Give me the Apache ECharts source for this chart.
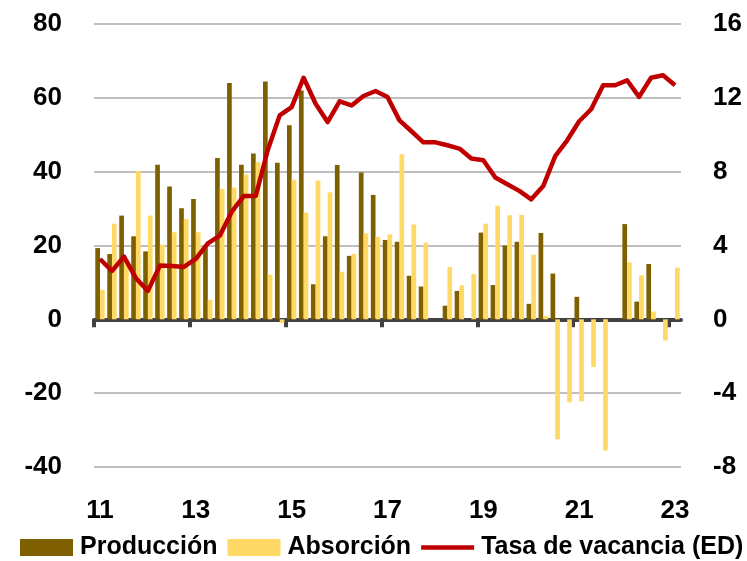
<!DOCTYPE html>
<html>
<head>
<meta charset="utf-8">
<script src="https://cdn.jsdelivr.net/npm/echarts@6/dist/echarts.min.js"></script>
<style>
html,body{margin:0;padding:0;background:#fff;}
#chart{width:747px;height:561px;}
</style>
</head>
<body>
<div id="chart"></div>
<script>
var categories = [
  '2011T1','2011T2','2011T3','2011T4','2012T1','2012T2','2012T3','2012T4',
  '2013T1','2013T2','2013T3','2013T4','2014T1','2014T2','2014T3','2014T4',
  '2015T1','2015T2','2015T3','2015T4','2016T1','2016T2','2016T3','2016T4',
  '2017T1','2017T2','2017T3','2017T4','2018T1','2018T2','2018T3','2018T4',
  '2019T1','2019T2','2019T3','2019T4','2020T1','2020T2','2020T3','2020T4',
  '2021T1','2021T2','2021T3','2021T4','2022T1','2022T2','2022T3','2022T4',
  '2023T1'
];
var tickLabels = ['11','13','15','17','19','21','23'];
var tickPositions = [0, 8, 16, 24, 32, 40, 48];
var produccion = [
  19.3, 17.7, 28.1, 22.5, 18.4, 41.9, 36.0, 30.1,
  32.6, 19.5, 43.7, 64.0, 41.9, 44.9, 64.4, 42.4,
  52.6, 62.0, 9.5, 22.5, 41.8, 17.2, 39.8, 33.7,
  21.5, 21.0, 11.8, 8.9, 0, 3.7, 7.7, 0,
  23.5, 9.3, 20.0, 21.0, 4.2, 23.4, 12.4, 0,
  6.1, 0, 0, 0, 25.8, 4.8, 15.0, 0,
  0
];
var absorcion = [
  8.0, 25.9, 16.0, 40.2, 28.1, 20.2, 23.6, 27.2,
  23.6, 5.3, 35.3, 35.7, 39.2, 42.6, 12.1, -1.0,
  37.8, 28.9, 37.6, 34.4, 12.9, 17.7, 23.3, 22.3,
  23.0, 44.7, 25.7, 20.8, 0, 14.2, 9.2, 12.3,
  25.9, 30.8, 28.2, 28.3, 17.5, 0.9, -32.5, -22.5,
  -22.2, -12.9, -35.5, 0, 15.4, 11.9, 2.1, -5.7,
  14.0
];
var vacancia = [
  3.27, 2.62, 3.40, 2.23, 1.54, 2.91, 2.89, 2.84,
  3.27, 4.12, 4.53, 5.83, 6.68, 6.68, 9.16, 11.05,
  11.50, 13.09, 11.68, 10.69, 11.81, 11.59, 12.10, 12.37,
  12.05, 10.78, 10.19, 9.59, 9.59, 9.43, 9.25, 8.71,
  8.62, 7.68, 7.32, 6.96, 6.50, 7.22, 8.84, 9.70,
  10.73, 11.38, 12.68, 12.68, 12.95, 12.05, 13.09, 13.22,
  12.68
];

var FONT = "'Liberation Sans', Arial, sans-serif";
var chart = echarts.init(document.getElementById('chart'), null, {renderer: 'canvas'});
var labelStyle = {color: '#000', fontFamily: FONT, fontWeight: 'bold', fontSize: 26};

chart.setOption({
  animation: false,
  backgroundColor: '#fff',
  grid: {left: 94, right: 66, top: 24, bottom: 94, containLabel: false},
  legend: {
    left: 20, top: 535, width: 740, padding: 0,
    itemWidth: 53, itemHeight: 17, itemGap: 10,
    textStyle: {color: '#000', fontFamily: FONT, fontWeight: 'bold', fontSize: 25, padding: [0, 0, 0, 2]},
    data: [
      {name: 'Producción', icon: 'rect'},
      {name: 'Absorción', icon: 'rect'},
      {name: 'Tasa de vacancia (ED)', icon: 'path://M0,0L53,0L53,4.5L0,4.5Z'}
    ]
  },
  xAxis: [
    {
      type: 'category', data: categories, boundaryGap: true,
      axisLine: {show: false},
      axisTick: {show: false},
      axisLabel: {show: false},
      splitLine: {show: false}
    },
    {
      type: 'category', data: categories, boundaryGap: true, position: 'bottom',
      axisLine: {show: false, onZero: false},
      axisTick: {show: false},
      axisLabel: Object.assign({
        interval: 7, margin: 31,
        formatter: function (v, i) { return tickLabels[i / 8]; }
      }, labelStyle),
      splitLine: {show: false}
    },
    {
      type: 'value', min: 0, max: categories.length, position: 'bottom',
      axisLine: {show: true, onZero: true, onZeroAxisIndex: 0, lineStyle: {color: '#404040', width: 4}},
      axisTick: {show: true, customValues: tickPositions, length: 8, lineStyle: {color: '#404040', width: 4}},
      axisLabel: {show: false},
      splitLine: {show: false}
    }
  ],
  yAxis: [
    {
      type: 'value', min: -40, max: 80, interval: 20,
      axisLine: {show: false}, axisTick: {show: false},
      axisLabel: Object.assign({margin: 32}, labelStyle),
      splitLine: {show: true, lineStyle: {color: '#BFBFBF', width: 2}}
    },
    {
      type: 'value', min: -8, max: 16, interval: 4, position: 'right',
      axisLine: {show: false}, axisTick: {show: false},
      axisLabel: Object.assign({margin: 32}, labelStyle),
      splitLine: {show: false}
    }
  ],
  series: [
    {
      name: 'Producción', type: 'bar', xAxisIndex: 0, yAxisIndex: 0,
      data: produccion, barWidth: 4.7, barGap: '0%',
      itemStyle: {color: '#7F6000'}
    },
    {
      name: 'Absorción', type: 'bar', xAxisIndex: 0, yAxisIndex: 0,
      data: absorcion, barWidth: 4.7, barGap: '0%',
      itemStyle: {color: '#FFD966'}
    },
    {
      name: 'Tasa de vacancia (ED)', type: 'line', xAxisIndex: 0, yAxisIndex: 1,
      data: vacancia, symbol: 'none', smooth: false, z: 5,
      lineStyle: {color: '#C00000', width: 4.5, join: 'round'},
      itemStyle: {color: '#C00000'}
    }
  ]
});
</script>
</body>
</html>
